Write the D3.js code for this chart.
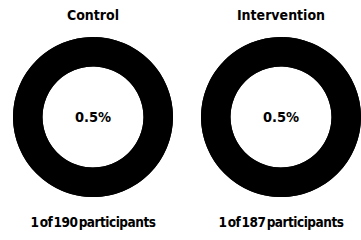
<!DOCTYPE html>
<html><head><meta charset="utf-8">
<script src="https://cdn.jsdelivr.net/npm/d3@7"></script>
<style>
html,body{margin:0;padding:0;background:#fff;}
text{font-family:"DejaVu Sans Condensed","DejaVu Sans",sans-serif;font-weight:bold;fill:#000;}
</style></head><body>
<svg id="c" width="361" height="240"></svg>
<script>
const groups = ["Control", "Intervention"];
const events = [1, 1];
const totals = [190, 187];
const pctLabels = ["0.5%", "0.5%"];
const footLabels = ["1 of 190 participants", "1 of 187 participants"];

const W = 361, H = 240;
const svg = d3.select("#c");
const x = d3.scalePoint().domain(groups).range([93, 281]);
const outerR = 80, innerR = 50.5, cy = 117;
const pie = d3.pie().sort(null).value(d => d);
const arc = d3.arc().innerRadius(innerR).outerRadius(outerR);

groups.forEach((g, i) => {
  const gg = svg.append("g").attr("transform", `translate(${x(g)},0)`);
  gg.append("text").attr("x", 0).attr("y", 20).attr("text-anchor", "middle")
    .style("font-size", "14px").text(g);
  const ring = gg.append("g").attr("transform", `translate(0,${cy})`);
  ring.append("path").attr("d", arc({startAngle: 0, endAngle: 2 * Math.PI})).attr("fill", "#000");
  ring.selectAll("path.slice").data(pie([events[i], totals[i] - events[i]])).join("path")
    .attr("class", "slice").attr("d", arc).attr("fill", "#000");
  gg.append("text").attr("x", 0).attr("y", cy + 5).attr("text-anchor", "middle")
    .style("font-size", "14.5px").text(pctLabels[i]);
  gg.append("text").attr("x", 0).attr("y", 227).attr("text-anchor", "middle")
    .style("font-size", "13.5px").style("letter-spacing", "-0.5px").style("word-spacing", "-2.5px")
    .text(footLabels[i]);
});
</script></body></html>
